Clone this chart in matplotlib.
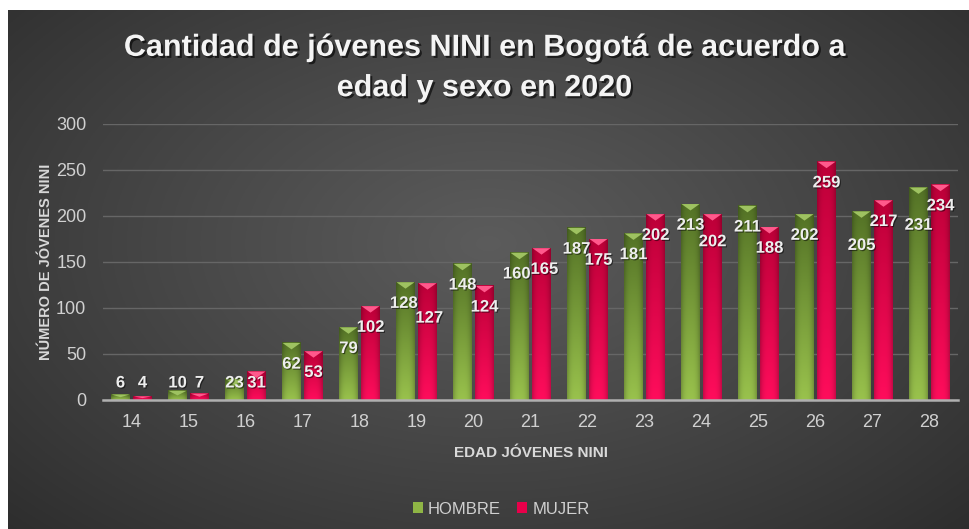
import numpy as np
import matplotlib
matplotlib.use('Agg')
import matplotlib.pyplot as plt
import matplotlib.patheffects as pe
from matplotlib.patches import Polygon, Patch

# datos
edades = ['14', '15', '16', '17', '18', '19', '20', '21', '22', '23', '24', '25', '26', '27', '28']
hombre = [6, 10, 23, 62, 79, 128, 148, 160, 187, 181, 213, 211, 202, 205, 231]
mujer = [4, 7, 31, 53, 102, 127, 124, 165, 175, 202, 202, 188, 259, 217, 234]

# desplazamiento extra de algunas etiquetas (unidades de datos)
ajuste_h = [0, 0, 0, 0, 0, 0, 0, 0, 0, 0, 0, 0, 0, 14, 18]
ajuste_m = [0, 0, 0, 0, 0, 15, 0, 0, 0, 0, 7, 0, 0, 0, 0]
# desplazamiento horizontal (fraccion de categoria)
dx_h = [0, 0, 0, 0, 0, -0.03, 0, -0.05, 0, 0, 0, 0, 0, 0, 0]
dx_m = [0, 0, 0, 0, 0, 0.03, 0, 0.05, 0, 0, 0, 0, 0, 0, 0]

FAM = ['Liberation Sans', 'DejaVu Sans']

fig = plt.figure(figsize=(9.69, 5.29), dpi=100)
fig.patch.set_facecolor('white')

# fondo con degradado radial
bg = fig.add_axes([8 / 969, 0, 1 - 8 / 969, 1 - 10 / 529])
yy, xx = np.mgrid[0:1:300j, 0:1:600j]
r = np.sqrt(((xx - 0.5) / 0.75) ** 2 + ((yy - 0.55) / 0.85) ** 2)
shade = np.clip(1 - r, 0, 1)
lo = np.array([0.16, 0.16, 0.16])
hi = np.array([0.36, 0.36, 0.36])
img = lo + (hi - lo) * shade[..., None] ** 0.9
bg.imshow(img, extent=[0, 1, 0, 1], aspect='auto', origin='lower')
bg.axis('off')

ax = fig.add_axes([103 / 969, 1 - 400 / 529, 855 / 969, 276 / 529])
ax.set_facecolor('none')

x = np.arange(len(edades))
w = 0.316
off = 0.193


def grad_bar(xc, v, c_top, c_bot, c_bevel):
    x0, x1 = xc - w / 2, xc + w / 2
    t = np.linspace(0, 1, 60)[:, None]
    s = np.linspace(-1, 1, 30)[None, :]
    base = c_bot + (c_top - c_bot) * t[..., None]
    edge = 1 - 0.22 * np.abs(s) ** 3
    im = np.clip(base * edge[..., None], 0, 1)
    ax.imshow(im, extent=[x0, x1, 0, v], aspect='auto', origin='lower', zorder=3)
    bev = min(7, v * 0.5)
    ax.add_patch(Polygon([(x0, v), (x1, v), (xc, v - bev)], closed=True,
                         facecolor=c_bevel, edgecolor='none', zorder=4))


g_top = np.array([0.33, 0.45, 0.15])
g_bot = np.array([0.60, 0.76, 0.30])
m_top = np.array([0.74, 0.00, 0.22])
m_bot = np.array([1.00, 0.05, 0.36])

for i in range(len(edades)):
    grad_bar(x[i] - off, hombre[i], g_top, g_bot, (0.62, 0.76, 0.38))
    grad_bar(x[i] + off, mujer[i], m_top, m_bot, (1.0, 0.35, 0.55))

# etiquetas de datos
for i in range(len(edades)):
    pares = [(x[i] - off + dx_h[i], hombre[i], ajuste_h[i]),
             (x[i] + off + dx_m[i], mujer[i], ajuste_m[i])]
    for xc, v, adj in pares:
        ypos = max(v - 23 - adj, 18.5)
        ax.text(xc, ypos, str(v), ha='center', va='center', fontsize=12,
                fontweight='bold', color='#eeeeee', family=FAM, zorder=6,
                path_effects=[pe.withSimplePatchShadow(offset=(0.8, -0.8), shadow_rgbFace='black', alpha=0.5)])

ax.set_xlim(-0.5, len(edades) - 0.5)
ax.set_ylim(0, 300)
ax.set_yticks(range(0, 301, 50))
ax.set_xticks(x)
ax.set_xticklabels(edades)
ax.grid(axis='y', color='#666666', linewidth=1, zorder=0)
ax.set_axisbelow(True)
for sp in ['top', 'right', 'left']:
    ax.spines[sp].set_visible(False)
ax.spines['bottom'].set_color('#b0b0b0')
ax.spines['bottom'].set_linewidth(1.8)
ax.spines['bottom'].set_zorder(5)
ax.tick_params(axis='x', length=0, colors='#d0d0d0', labelsize=13, pad=10)
ax.tick_params(axis='y', length=0, colors='#d0d0d0', labelsize=13, pad=12)
for lab in ax.get_xticklabels() + ax.get_yticklabels():
    lab.set_family(FAM)

ax.set_xlabel('EDAD JÓVENES NINI', fontsize=11, fontweight='bold', color='#d9d9d9', family=FAM)
ax.set_ylabel('NÚMERO DE JÓVENES NINI', fontsize=10.5, fontweight='bold', color='#d9d9d9', family=FAM)
ax.xaxis.set_label_coords(0.5, -0.168)
ax.yaxis.set_label_coords(-0.058, 0.5)

fig.text(0.5, 1 - 68 / 529, 'Cantidad de jóvenes NINI en Bogotá de acuerdo a\nedad y sexo en 2020',
         ha='center', va='center', fontsize=22, fontweight='bold', color='#f4f4f4',
         family=FAM, linespacing=1.45,
         path_effects=[pe.withSimplePatchShadow(offset=(1.5, -1.5), shadow_rgbFace='black', alpha=0.6)])

handles = [Patch(facecolor='#8fb545', edgecolor='none', label='HOMBRE'),
           Patch(facecolor='#e8004a', edgecolor='none', label='MUJER')]
leg = fig.legend(handles=handles, loc='center', bbox_to_anchor=(501 / 969, 1 - 509 / 529),
                 ncol=2, frameon=False, handlelength=0.6, handleheight=0.6, handletextpad=0.3,
                 columnspacing=1.0, prop={'family': FAM, 'size': 12})
for t in leg.get_texts():
    t.set_color('#d0d0d0')

fig.savefig('out.png', dpi=100, facecolor='white')
